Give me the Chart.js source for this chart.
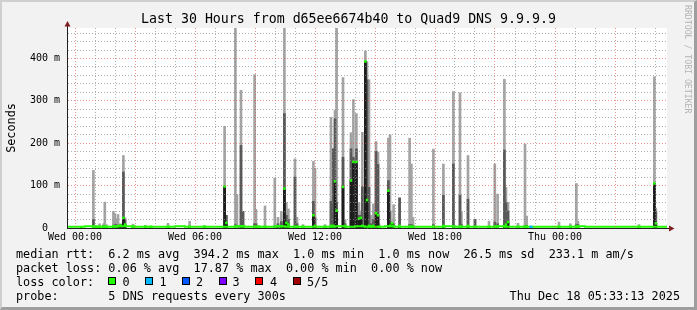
<!DOCTYPE html>
<html>
<head>
<meta charset="utf-8">
<script src="https://cdn.jsdelivr.net/npm/chart.js"></script>
<style>
  body { margin: 0; background: #fff; }
  #wrap { position: relative; width: 697px; height: 310px; background: #f2f2f2; overflow: hidden;
          font-family: 'DejaVu Sans Mono', monospace; color: #000; }
  #wrap canvas { position: absolute; left: 0; top: 0; }
  .frame { position: absolute; left: 0; top: 0; width: 697px; height: 310px; box-sizing: border-box;
           border-top: 2px solid #cfcfcf; border-left: 2px solid #cfcfcf;
           border-right: 3px solid #9e9e9e; border-bottom: 3px solid #9e9e9e; pointer-events: none; }
  .t { position: absolute; white-space: pre; }
  .title { left: 0; width: 697px; top: 11px; text-align: center; font-size: 13.25px; line-height: 16px; }
  .ylab { left: -39.5px; top: 121px; width: 100px; text-align: center; font-size: 11.8px; line-height: 14px;
          transform: rotate(-90deg); }
  .credit { left: 683px; top: 5px; writing-mode: vertical-rl; font-size: 8.2px; line-height: 9px; color: #b4b4b4; }
  .leg { left: 16px; font-size: 11.8px; line-height: 14px; }
  .box { position: absolute; top: 277px; width: 8px; height: 8px; box-sizing: border-box; border: 1px solid #000; }
</style>
</head>
<body>
<div id="wrap">
  <canvas id="smoke" width="697" height="310"></canvas>
  <div class="t title">Last 30 Hours from d65ee6674b40 to Quad9 DNS 9.9.9.9</div>
  <div class="t ylab">Seconds</div>
  <div class="t credit">RRDTOOL / TOBI OETIKER</div>
  <div class="t leg" style="top:247px">median rtt:  6.2 ms avg  394.2 ms max  1.0 ms min  1.0 ms now  26.5 ms sd  233.1 m am/s</div>
  <div class="t leg" style="top:261px">packet loss: 0.06 % avg  17.87 % max  0.00 % min  0.00 % now</div>
  <div class="t leg" style="top:274.5px">loss color:</div>
  <div id="lossLegend"></div>
  <div class="t leg" style="top:288.5px">probe:       5 DNS requests every 300s</div>
  <div class="t leg" style="top:288.5px; left:auto; right:17px">Thu Dec 18 05:33:13 2025</div>
  <div class="frame"></div>
</div>
<script>
// hours since Wed 00:00, values in ms
const spikeHours  = [0.32, 0.92, 1.0, 1.1, 1.23, 1.43, 1.49, 1.57, 1.92, 1.99, 2.07, 2.15, 2.27, 2.42, 2.5, 2.9, 3.53, 3.8, 4.65, 5.73, 6.47,
  7.48, 7.57, 8.02, 8.1, 8.3, 8.4, 8.98, 9.05, 9.2, 9.5, 9.99, 10.15, 10.32, 10.47, 10.57, 10.67, 11.0, 11.1, 11.4, 11.92, 12.0,
  12.5, 12.8, 12.92, 13.0, 13.08, 13.4, 13.5, 13.8, 13.92, 14.07, 14.2, 14.3, 14.37, 14.52, 14.6, 14.7, 14.8, 14.92, 15.05, 15.15,
  15.2, 15.67, 15.75, 15.85, 15.93, 16.23, 16.73, 16.82, 16.9, 17.92, 18.42, 18.92, 19.25, 19.32, 19.65, 20.0, 20.7, 20.99, 21.13,
  21.47, 21.55, 21.65, 22.15, 22.5, 22.58, 24.2, 24.77, 25.07, 25.15, 28.2, 28.97, 29.04];
const spikeMax    = [4, 136, 5, 5, 10, 10, 61, 8, 39, 34, 22, 32, 10, 171, 24, 9, 6, 4, 11, 16, 6,
  240, 30, 480, 79, 325, 39, 362, 44, 5, 52, 118, 25, 39, 480, 60, 45, 163, 25, 8, 157, 141,
  8, 261, 187, 278, 480, 355, 20, 225, 303, 270, 60, 40, 226, 418, 393, 350, 30, 57, 204, 179,
  10, 212, 220, 15, 55, 71, 212, 151, 25, 186, 151, 322, 319, 39, 171, 20, 16, 151, 80,
  351, 96, 60, 11, 198, 28, 14, 10, 105, 16, 8, 357, 47];
const spikeUpper  = [4, 20, 3, 3, 4, 6, 4, 4, 6, 8, 8, 6, 8, 132, 20, 4, 4, 3, 4, 3, 3,
  98, 30, 8, 6, 195, 39, 10, 10, 3, 4, 5, 10, 15, 270, 30, 20, 120, 10, 4, 63, 24,
  4, 63, 187, 258, 60, 167, 10, 187, 167, 187, 30, 30, 97, 393, 350, 96, 10, 20, 181, 150,
  5, 112, 40, 10, 8, 71, 8, 8, 6, 8, 77, 151, 77, 8, 68, 20, 4, 14, 10,
  184, 61, 40, 4, 6, 6, 4, 4, 8, 8, 4, 105, 40];
const spikeMedian = [2, 3, 3, 3, 3, 3, 3, 3, 4, 4, 4, 4, 6, 24, 8, 3, 3, 3, 3, 3, 3,
  98, 12, 3, 3, 4, 4, 3, 3, 3, 3, 3, 4, 4, 93, 12, 8, 3, 3, 3, 30, 5,
  3, 5, 5, 110, 41, 97, 5, 112, 156, 156, 22, 24, 5, 393, 66, 5, 4, 5, 35, 30,
  3, 88, 5, 11, 4, 5, 3, 3, 3, 3, 5, 3, 3, 3, 5, 3, 3, 3, 3,
  4, 8, 14, 3, 3, 3, 3, 3, 3, 3, 3, 105, 11];

const baseHours  = [-0.4, 0, 0.5, 1, 1.5, 2, 2.5, 3, 3.5, 4, 4.5, 5, 5.5, 6, 6.5, 7, 7.5, 8, 8.5, 9, 9.5, 10, 10.5, 11, 11.5,
  12, 12.5, 13, 13.5, 14, 14.5, 15, 15.5, 16, 16.5, 17, 17.5, 18, 18.5, 19, 19.5, 20, 20.5, 21, 21.5, 22, 22.5,
  23, 23.5, 24, 24.5, 25, 25.5, 26, 26.5, 27, 27.5, 28, 28.5, 29, 29.6];
const baseMedian = [3, 3, 4, 3, 3, 4, 4, 3, 3, 3, 3, 4, 3, 3, 3, 3, 3, 4, 3, 3, 3, 4, 3, 3, 3,
  3, 3, 4, 3, 4, 3, 3, 4, 3, 3, 3, 3, 3, 4, 3, 3, 3, 3, 4, 3, 3, 3,
  3, 3, 3, 3, 4, 3, 3, 3, 3, 3, 3, 3, 3, 3];

const lossHours  = [22.8];
const lossMedian = [2];

const lossNames  = ['0', '1', '2', '3', '4', '5/5'];
const lossColors = ['#20ff00', '#00b8ff', '#0059ff', '#7e00ff', '#ff0000', '#a10000'];

const xLabelHours = [0, 6, 12, 18, 24];
const xLabels     = ['Wed 00:00', 'Wed 06:00', 'Wed 12:00', 'Wed 18:00', 'Thu 00:00'];
const yLabelMs    = [0, 100, 200, 300, 400];
const yLabels     = ['0  ', '100 m', '200 m', '300 m', '400 m'];

const smokeFloor = 1;

// loss colour legend boxes
const boxLeft   = [108, 145, 181.5, 218.5, 255, 292.5];
const labelLeft = [122.5, 159.5, 196, 232.5, 270, 307];
const lossLegend = document.getElementById('lossLegend');
lossNames.forEach((name, i) => {
  const b = document.createElement('div');
  b.className = 'box';
  b.style.left = boxLeft[i] + 'px';
  b.style.background = lossColors[i];
  lossLegend.appendChild(b);
  const l = document.createElement('div');
  l.className = 't leg';
  l.style.top = '274.5px';
  l.style.left = labelLeft[i] + 'px';
  l.textContent = name;
  lossLegend.appendChild(l);
});

const gridHours = [];
for (let h = 0; h <= 29; h++) gridHours.push(h);
const gridMs = [];
for (let v = 0; v <= 460; v += 20) gridMs.push(v);

const majorGrid = 'rgba(222, 79, 79, 0.6)';
const minorGrid = 'rgba(143, 143, 143, 0.7)';

const bars = (tops) => spikeHours.map((h, i) => ({ x: h, y: [smokeFloor, tops[i]] }));

const rrdFrame = {
  id: 'rrdFrame',
  beforeDraw(chart) {
    const { ctx, chartArea: a } = chart;
    ctx.save();
    ctx.fillStyle = '#ffffff';
    ctx.fillRect(a.left, a.top, a.right - a.left, a.bottom - a.top);
    ctx.restore();
  },
  afterDraw(chart) {
    const { ctx, chartArea: a } = chart;
    ctx.save();
    ctx.fillStyle = '#1f1f1f';
    ctx.fillRect(a.left, a.top - 2, 1, 2);
    ctx.fillRect(a.right, a.bottom, 2, 1);
    ctx.fillStyle = '#801f1f';
    ctx.beginPath();
    ctx.moveTo(a.left + 0.5, a.top - 7);
    ctx.lineTo(a.left + 3.5, a.top - 1.5);
    ctx.lineTo(a.left - 2.5, a.top - 1.5);
    ctx.closePath();
    ctx.fill();
    ctx.beginPath();
    ctx.moveTo(a.right + 7.5, a.bottom + 0.5);
    ctx.lineTo(a.right + 2, a.bottom - 2.5);
    ctx.lineTo(a.right + 2, a.bottom + 3.5);
    ctx.closePath();
    ctx.fill();
    ctx.restore();
  }
};

new Chart(document.getElementById('smoke'), {
  type: 'bar',
  data: {
    datasets: [
      {
        type: 'line', order: 0, showLine: false,
        data: lossHours.map((h, i) => ({ x: h, y: lossMedian[i] })),
        pointStyle: 'rect', pointRadius: 2.2, pointBorderWidth: 0, pointBackgroundColor: lossColors[1]
      },
      {
        type: 'line', order: 1, showLine: false,
        data: spikeHours.map((h, i) => ({ x: h, y: spikeMedian[i] })),
        pointStyle: 'rect', pointRadius: 1.8, pointBorderWidth: 0, pointBackgroundColor: lossColors[0]
      },
      {
        type: 'line', order: 2, stepped: true,
        data: baseHours.map((h, i) => ({ x: h, y: baseMedian[i] })),
        borderColor: lossColors[0], borderWidth: 2, pointRadius: 0
      },
      { order: 3, data: bars(spikeMedian), backgroundColor: '#1c1c1c' },
      { order: 4, data: bars(spikeUpper), backgroundColor: '#595959' },
      { order: 5, data: bars(spikeMax), backgroundColor: '#a3a3a3' }
    ]
  },
  options: {
    responsive: false,
    animation: false,
    events: [],
    datasets: { bar: { barThickness: 2, grouped: false, borderWidth: 0 } },
    layout: { padding: { left: 0, top: 28, right: 30, bottom: 62 } },
    plugins: { legend: { display: false }, tooltip: { enabled: false }, title: { display: false } },
    scales: {
      x: {
        type: 'linear', min: -0.4, max: 29.6, offset: false,
        afterBuildTicks: s => { s.ticks = gridHours.map(v => ({ value: v })); },
        afterFit: s => { s.height = 20; },
        ticks: {
          autoSkip: false, maxRotation: 0, minRotation: 0, padding: 3, color: '#000',
          font: { family: 'DejaVu Sans Mono', size: 10 },
          callback: v => { const i = xLabelHours.indexOf(v); return i >= 0 ? xLabels[i] : ''; }
        },
        grid: { z: 1, drawTicks: false, offset: false, lineWidth: 1,
                color: c => (c.tick && c.tick.value % 3 === 0) ? majorGrid : minorGrid },
        border: { z: 2, color: '#1f1f1f', width: 1, dash: [1, 2] }
      },
      y: {
        type: 'linear', min: 0, max: 472,
        afterBuildTicks: s => { s.ticks = gridMs.map(v => ({ value: v })); },
        afterFit: s => { s.width = 67; },
        ticks: {
          autoSkip: false, padding: 7, color: '#000',
          font: { family: 'DejaVu Sans Mono', size: 10 },
          callback: v => { const i = yLabelMs.indexOf(v); return i >= 0 ? yLabels[i] : ''; }
        },
        grid: { z: 1, drawTicks: false, lineWidth: 1,
                color: c => (c.tick && c.tick.value % 100 === 0) ? majorGrid : minorGrid },
        border: { z: 2, color: '#1f1f1f', width: 1, dash: [1, 2] }
      }
    }
  },
  plugins: [rrdFrame]
});
</script>
</body>
</html>
